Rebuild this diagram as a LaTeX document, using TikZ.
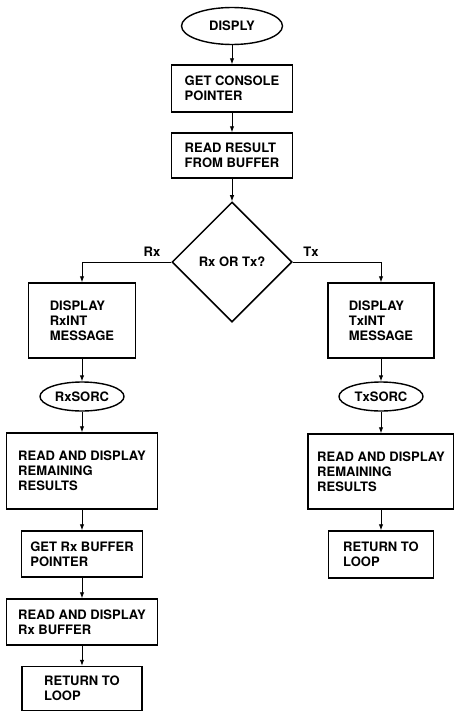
\documentclass[tikz,border=0pt]{standalone}
\usepackage{fontspec}
\setmainfont{TeX Gyre Heros}
\usetikzlibrary{arrows.meta,shapes.geometric}

\begin{document}
\begin{tikzpicture}[
    x=1pt, y=-1pt,
    txt/.style={font=\fontsize{13}{15}\selectfont\bfseries},
    proc/.style={
      draw, line width=1.5pt, align=left, inner sep=2pt, txt
    },
    term/.style={
      draw, ellipse, line width=1.4pt, inner sep=1pt, txt
    },
    decide/.style={
      draw, diamond, line width=1.5pt, inner sep=0pt,
      minimum width=120, minimum height=120, txt
    },
    flow/.style={->, line width=0.9pt},
    >={Latex[length=6pt,width=4.5pt]}
  ]
  \useasboundingbox (0,0) rectangle (453,712);

  % Main column
  \node[term, minimum width=101, minimum height=37] (disply) at (232,26)    {DISPLY};
  \node[proc, minimum width=121, minimum height=47] (cons)   at (232,88.5)  {GET CONSOLE\\POINTER};
  \node[proc, minimum width=121, minimum height=45] (result) at (232,155.5) {READ RESULT\\FROM BUFFER};
  \node[decide] (rxtx) at (232,262) {Rx OR Tx?};

  % Rx branch (left)
  \node[proc, minimum width=107, minimum height=75] (rxint) at (82,320.5) {DISPLAY\\RxINT\\MESSAGE};
  \node[term, minimum width=84, minimum height=29]  (rxsorc) at (82,396.5) {RxSORC};
  \node[proc, minimum width=151, minimum height=76] (rxrem) at (82,471)   {READ AND DISPLAY\\REMAINING\\RESULTS};
  \node[proc, minimum width=121, minimum height=46] (rxptr) at (82,554)   {GET Rx BUFFER\\POINTER};
  \node[proc, minimum width=151, minimum height=46] (rxbuf) at (82,622)   {READ AND DISPLAY\\Rx BUFFER};
  \node[proc, minimum width=120, minimum height=44] (rxret) at (82,688.5) {RETURN TO\\LOOP};

  % Tx branch (right)
  \node[proc, minimum width=106, minimum height=75] (txint) at (381,320.5) {DISPLAY\\TxINT\\MESSAGE};
  \node[term, minimum width=84, minimum height=29]  (txsorc) at (381,396.5) {TxSORC};
  \node[proc, minimum width=146, minimum height=75] (txrem) at (381,471.5) {READ AND DISPLAY\\REMAINING\\RESULTS};
  \node[proc, minimum width=105, minimum height=47] (txret) at (381,554.5) {RETURN TO\\LOOP};

  % Branch labels
  \node[txt] (rxlbl) at (152,252) {Rx};
  \node[txt] (txlbl) at (311,252) {Tx};

  % Arrows
  \foreach \i/\j in {disply/cons, cons/result, result/rxtx,
                     rxint/rxsorc, rxsorc/rxrem, rxrem/rxptr, rxptr/rxbuf, rxbuf/rxret,
                     txint/txsorc, txsorc/txrem, txrem/txret} {
    \draw[flow] (\i) -- (\j);
  }
  \draw[flow] (rxtx.west) -| (rxint.north);
  \draw[flow] (rxtx.east) -| (txint.north);
\end{tikzpicture}
\end{document}
